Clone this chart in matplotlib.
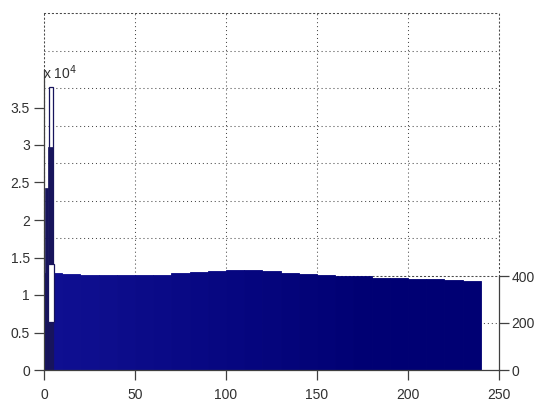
import numpy as np
import matplotlib
matplotlib.use("Agg")
import matplotlib.pyplot as plt

plt.rcParams['font.family'] = ['Liberation Sans', 'DejaVu Sans']

# ---- data ----
# main band: 10-unit bins from 0 to 240, values on the right-hand axis
bin_left = [0, 10, 20, 30, 40, 50, 60, 70, 80, 90, 100, 110,
            120, 130, 140, 150, 160, 170, 180, 190, 200, 210, 220, 230]
band_values = [413, 410, 404, 404, 405, 404, 405, 411, 416, 422, 424, 426,
               421, 414, 408, 404, 402, 398, 392, 390, 386, 386, 381, 380]

# early spikes on the left-hand axis (x 10^4)
spike_x = [1.4, 3.6]
spike_w = [1.6, 2.8]
spike_h = [24300, 29700]
outline_x, outline_w, outline_h = 3.85, 2.3, 37800
gap_x, gap_w, gap_bottom, gap_top = 3.85, 3.3, 6400, 14100

x_ticks = [0, 50, 100, 150, 200, 250]
left_ticks = [0, 5000, 10000, 15000, 20000, 25000, 30000, 35000]
left_labels = ['0', '0.5', '1', '1.5', '2', '2.5', '3', '3.5']
right_ticks = [0, 200, 400]

W, H = 535, 403
fig = plt.figure(figsize=(W / 100, H / 100), dpi=100)
fig.patch.set_facecolor('white')

def frac(x0, y_top, x1, y_bot):
    return [x0 / W, 1 - y_bot / H, (x1 - x0) / W, (y_bot - y_top) / H]

x_left, x_right = 44, 499
axis_col = '#404040'
grid_col = '#4a4a4a'
dot = (0, (1, 2.8))

# dotted grid panel in the upper part
axg = fig.add_axes(frac(x_left, 13, x_right, 276), zorder=0)
axg.set_xlim(0, 250)
axg.set_ylim(0, 7)
axg.set_xticks(x_ticks)
axg.set_yticks(range(8))
axg.tick_params(length=0, labelbottom=False, labelleft=False)
axg.grid(True, linestyle=dot, color=grid_col, linewidth=0.75)
for s in axg.spines.values():
    s.set_linestyle(dot)
    s.set_color(grid_col)
    s.set_linewidth(0.75)

# right-hand axis with the main band
ax2 = fig.add_axes(frac(x_left, 276, x_right, 370), zorder=1)
ax2.patch.set_visible(False)
ax2.set_xlim(0, 250)
ax2.set_ylim(0, 400)
ax2.axhline(200, linestyle=dot, color=grid_col, linewidth=0.75, zorder=0)
c_start = np.array([0.06, 0.06, 0.57])
c_end = np.array([0.0, 0.0, 0.45])
pos = np.array(bin_left) / 240.0
colors = [tuple(c_start + (c_end - c_start) * min(1.0, p * 1.4)) for p in pos]
ax2.bar(bin_left, band_values, width=10, align='edge', color=colors,
        edgecolor=colors, linewidth=0.6, clip_on=False, zorder=2)
ax2.yaxis.tick_right()
ax2.set_yticks(right_ticks)
ax2.set_yticklabels([str(t) for t in right_ticks])
ax2.set_xticks([])
ax2.tick_params(axis='y', direction='out', length=7, width=0.9,
                color=axis_col, labelcolor='#303030', labelsize=10, pad=2)
for k in ['left', 'top', 'bottom']:
    ax2.spines[k].set_visible(False)
ax2.spines['right'].set_color(axis_col)
ax2.spines['right'].set_linewidth(0.9)

# left-hand axis with the spikes
ax1 = fig.add_axes(frac(x_left, 70, x_right, 370), zorder=2)
ax1.patch.set_visible(False)
ax1.set_xlim(0, 250)
ax1.set_ylim(0, 40000)
spike_col = '#17145c'
ax1.bar([outline_x], [outline_h], width=outline_w, color='white',
        edgecolor=spike_col, linewidth=0.9)
ax1.bar(spike_x, spike_h, width=spike_w, color=spike_col,
        edgecolor=spike_col, linewidth=0.5)
ax1.bar([gap_x], [gap_top - gap_bottom], bottom=[gap_bottom], width=gap_w,
        color='white', edgecolor=spike_col, linewidth=0.9)
ax1.set_xticks(x_ticks)
ax1.set_xticklabels([str(t) for t in x_ticks])
ax1.set_yticks(left_ticks)
ax1.set_yticklabels(left_labels)
ax1.tick_params(direction='out', length=7, width=0.9, color=axis_col,
                labelcolor='#303030', labelsize=10)
ax1.tick_params(axis='x', pad=6)
ax1.tick_params(axis='y', pad=3)
for k in ['right', 'top']:
    ax1.spines[k].set_visible(False)
for k in ['left', 'bottom']:
    ax1.spines[k].set_color(axis_col)
    ax1.spines[k].set_linewidth(0.9)

fig.text(43 / W, 1 - 79 / H, r'x 10$^{4}$', fontsize=10, color='#303030',
         ha='left', va='baseline')

fig.savefig('out.png', dpi=100)
